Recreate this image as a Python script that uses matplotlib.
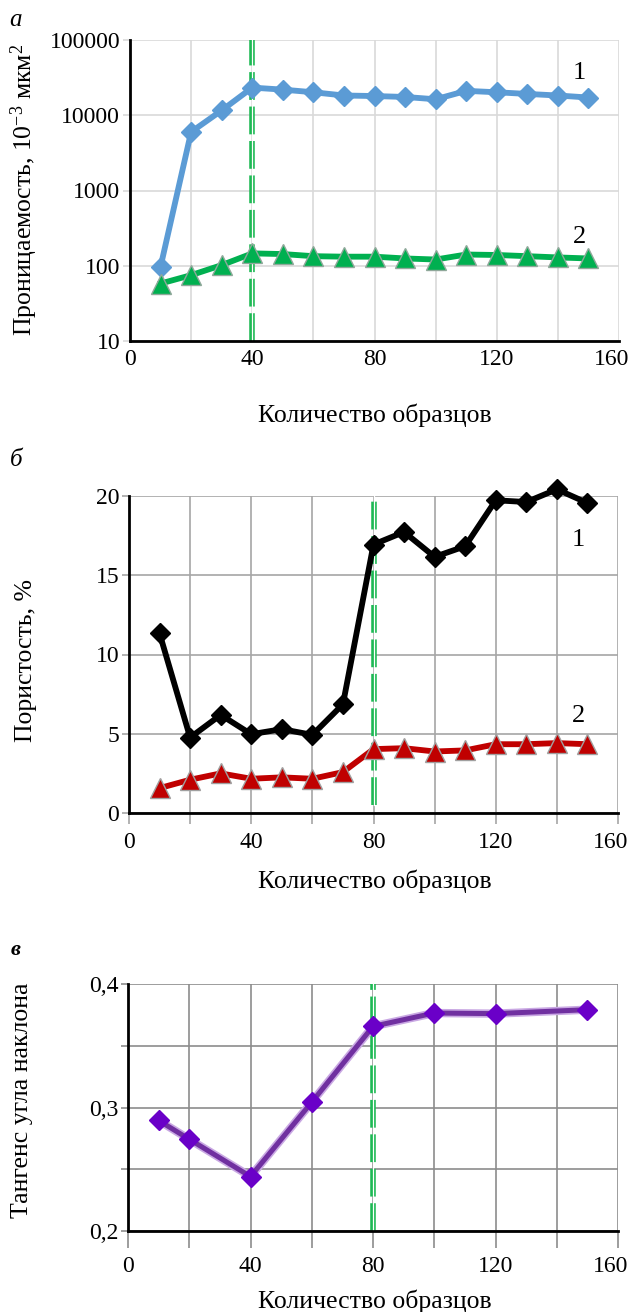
import numpy as np
import matplotlib.pyplot as plt
import matplotlib.transforms as mtransforms

plt.rcParams['font.family'] = ['Liberation Serif', 'DejaVu Serif']
plt.rcParams['mathtext.fontset'] = 'custom'
plt.rcParams['mathtext.rm'] = 'Liberation Serif'
plt.rcParams['mathtext.it'] = 'Liberation Serif:italic'
plt.rcParams['font.size'] = 18

# panel a - permeability
x_a = [10, 20, 30, 40, 50, 60, 70, 80, 90, 100, 110, 120, 130, 140, 150]
perm_1 = [97, 6000, 11600, 23300, 21900, 20200, 18300, 18000, 17500, 16300, 21100, 20200, 19200, 18300, 17200]
perm_2 = [58, 75, 102, 146, 143, 134, 132, 132, 125, 121, 141, 139, 134, 129, 125]

# panel b - porosity
x_b = [10, 20, 30, 40, 50, 60, 70, 80, 90, 100, 110, 120, 130, 140, 150]
por_1 = [11.33, 4.76, 6.19, 4.97, 5.29, 4.93, 6.86, 16.94, 17.73, 16.16, 16.83, 19.73, 19.62, 20.42, 19.56]
por_2 = [1.57, 2.10, 2.50, 2.16, 2.25, 2.16, 2.58, 4.03, 4.09, 3.88, 3.95, 4.34, 4.34, 4.41, 4.34]

# panel c - slope tangent
x_c = [10, 20, 40, 60, 80, 100, 120, 150]
tan_c = [0.2895, 0.2743, 0.2441, 0.3043, 0.3657, 0.3765, 0.3760, 0.3792]

W, H = 631, 1312
fig = plt.figure(figsize=(W / 100, H / 100), dpi=100)


def box(l, r, t, b):
    return [l / W, 1 - b / H, (r - l) / W, (b - t) / H]


def vline(ax, x, ymin=0):
    ax.axvline(x, ymin=ymin, color='#1db954', lw=4, dashes=(5, 1.2), zorder=2)
    ax.axvline(x, ymin=ymin, color='white', lw=0.9, zorder=2.1)


def style(ax, gridcol, xtick_len):
    ax.spines['top'].set_visible(False)
    ax.spines['right'].set_visible(False)
    ax.spines['left'].set_linewidth(2)
    ax.spines['bottom'].set_linewidth(2)
    ax.set_xlim(0, 160)
    ax.set_xticks([0, 40, 80, 120, 160])
    ax.set_xticks(range(0, 161, 20), minor=True)
    ax.grid(True, which='both', axis='x', color=gridcol, lw=1.2)
    ax.grid(True, which='major', axis='y', color=gridcol, lw=1.2)
    ax.set_axisbelow(True)
    ax.tick_params(axis='x', which='both', length=xtick_len, color=gridcol, width=1.2, pad=6)
    ax.tick_params(axis='y', which='both', length=5, color=gridcol, width=1.2, pad=2)
    for lab in ax.get_xticklabels() + ax.get_yticklabels():
        lab.set_fontsize(17)
    # last x label sits a bit left of the axis end
    last = ax.get_xticklabels()[-1]
    last.set_transform(last.get_transform() + mtransforms.ScaledTranslation(-7 / 100, 0, fig.dpi_scale_trans))


# ---- a
ax1 = fig.add_axes(box(130, 619, 40, 341))
ax1.set_yscale('log')
ax1.set_ylim(10, 100000)
ax1.set_yticks([10, 100, 1000, 10000, 100000])
ax1.set_yticklabels(['10', '100', '1000', '10000', '100000'])
ax1.yaxis.set_minor_locator(plt.NullLocator())
style(ax1, '#d9d9d9', 0)
vline(ax1, 40)
ax1.plot(x_a, perm_1, color='#5b9bd5', lw=4.2, marker='D', ms=10.5, mec='#5b9bd5', zorder=3, clip_on=False)
ax1.plot(x_a, perm_2, color='#00b050', lw=4.2, marker='^', ms=15, mec='#8fa89a', mew=1, zorder=3, clip_on=False)
ax1.text(147, 36500, '1', fontsize=19, ha='center', va='center')
ax1.text(147, 241, '2', fontsize=19, ha='center', va='center')

# ---- б
ax2 = fig.add_axes(box(129, 618, 496, 813))
ax2.set_ylim(0, 20)
ax2.set_yticks([0, 5, 10, 15, 20])
style(ax2, '#a6a6a6', 8)
vline(ax2, 80, ymin=0.025)
ax2.plot(x_b, por_1, color='black', lw=4.2, marker='D', ms=10.5, zorder=3, clip_on=False)
ax2.plot(x_b, por_2, color='#c00000', lw=4.2, marker='^', ms=15, mec='#a0a0a0', mew=1, zorder=3, clip_on=False)
ax2.text(147, 17.2, '1', fontsize=19, ha='center', va='center')
ax2.text(147, 6.1, '2', fontsize=19, ha='center', va='center')

# ---- в
ax3 = fig.add_axes(box(128, 618, 984, 1231))
ax3.set_ylim(0.2, 0.4)
ax3.set_yticks([0.2, 0.25, 0.3, 0.35, 0.4])
ax3.set_yticklabels(['0,2', '', '0,3', '', '0,4'])
style(ax3, '#8c8c8c', 12)
vline(ax3, 80)
ax3.plot(x_c, tan_c, color='#c9a8e3', lw=6, zorder=2.8, clip_on=False)
ax3.plot(x_c, tan_c, color='#7030a0', lw=3.6, marker='D', ms=10.5, mfc='#6a00c8', mec='#6a00c8', zorder=3,
         clip_on=False)

# labels
xl = 'Количество образцов'
fig.text(375 / W, 1 - 415 / H, xl, ha='center', va='center', fontsize=18.5)
fig.text(375 / W, 1 - 881 / H, xl, ha='center', va='center', fontsize=18.5)
fig.text(375 / W, 1 - 1301 / H, xl, ha='center', va='center', fontsize=18.5)
fig.text(24 / W, 1 - 190 / H, 'Проницаемость, 10$^{-3}$ мкм$^{2}$', rotation=90,
         ha='center', va='center', fontsize=18.5)
fig.text(26 / W, 1 - 660 / H, 'Пористость, %', rotation=90, ha='center', va='center', fontsize=18.5)
fig.text(22 / W, 1 - 1100 / H, 'Тангенс угла наклона', rotation=90, ha='center', va='center', fontsize=18.5)

fig.text(16 / W, 1 - 20 / H, 'а', style='italic', ha='center', va='center', fontsize=18)
fig.text(16 / W, 1 - 460 / H, 'б', style='italic', ha='center', va='center', fontsize=18)
fig.text(16 / W, 1 - 950 / H, 'в', style='italic', weight='bold', ha='center', va='center', fontsize=16)

fig.savefig('out.png', dpi=100)
